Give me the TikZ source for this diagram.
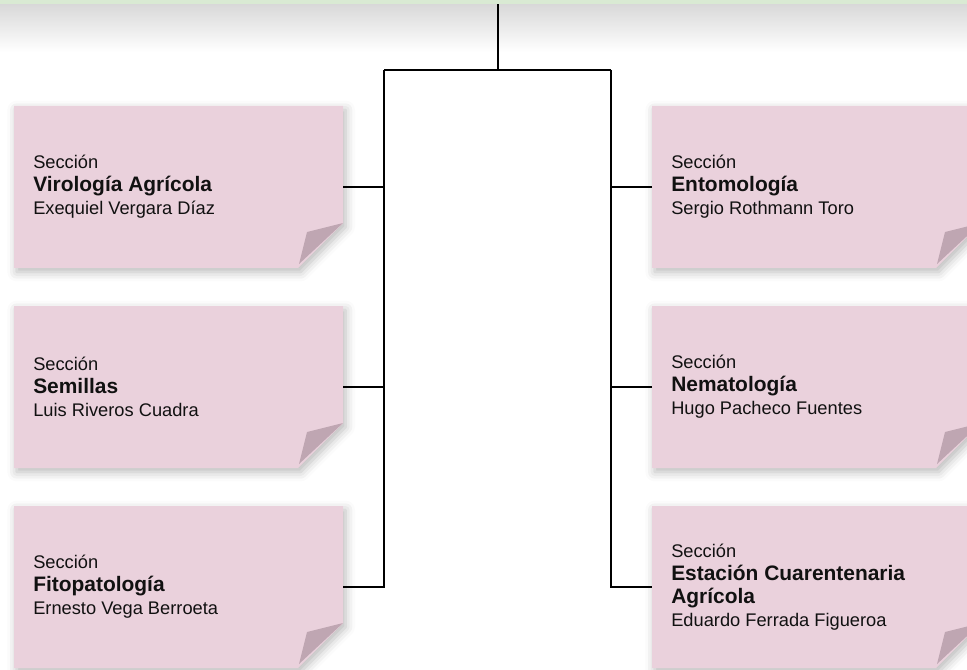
\documentclass[tikz,border=0pt]{standalone}
\usepackage{fontspec}
\setmainfont{Liberation Sans}
\usetikzlibrary{shadows.blur,calc}
\definecolor{boxpink}{HTML}{EAD1DC}
\definecolor{foldc}{HTML}{BFA6B2}
\definecolor{bandgreen}{HTML}{D9EAD3}
\definecolor{ink}{HTML}{111111}
\pgfdeclarelayer{background}
\pgfsetlayers{background,main}
\tikzset{
  card/.style={minimum width=246.75pt, minimum height=121.5pt, inner sep=0pt, outer sep=0pt},
  cardtext/.style={anchor=west, align=left, font=\fontsize{13.7}{17.25}\selectfont, text=ink, inner sep=0pt},
  wire/.style={line width=1.5pt, black},
  cardfill/.style={fill=boxpink, blur shadow={shadow xshift=2pt, shadow yshift=-3pt, shadow blur radius=7pt, shadow opacity=28}},
  foldfill/.style={fill=foldc},
}
\newcommand{\hd}[1]{{\fontsize{15.7}{17.25}\selectfont\bfseries #1}}
\newcommand{\cardshape}[1]{%
  \begin{pgfonlayer}{background}
    \path[cardfill] (#1.north west) -- (#1.north east) -- ($(#1.south east)+(0,-45)$) -- ($(#1.south east)+(-45,0)$) -- (#1.south west) -- cycle;
  \end{pgfonlayer}
  \path[foldfill] ($(#1.south east)+(0,-45)$) -- ($(#1.south east)+(-36,-36)$) -- ($(#1.south east)+(-44,-4)$) -- cycle;
}
\begin{document}
\begin{tikzpicture}[x=0.75pt,y=-0.75pt]
\useasboundingbox (0,0) rectangle (967,670);
% top band and its shadow
\shade[top color=black!15, bottom color=white] (0,4.5) rectangle (967,52);
\fill[bandgreen] (0,0) rectangle (967,4.5);

% cards
\node[card] (vir)  at (178.5,187) {};
\node[card] (sem)  at (178.5,387) {};
\node[card] (fito) at (178.5,587) {};
\node[card] (ento) at (816.5,187) {};
\node[card] (nema) at (816.5,387) {};
\node[card] (est)  at (816.5,587) {};
\cardshape{vir}\cardshape{sem}\cardshape{fito}
\cardshape{ento}\cardshape{nema}\cardshape{est}

\node[cardtext] (virT)  at ($(vir.west)+(19,0)$)  {Sección\\\hd{Virología Agrícola}\\Exequiel Vergara Díaz};
\node[cardtext] (semT)  at ($(sem.west)+(19,0)$)  {Sección\\\hd{Semillas}\\Luis Riveros Cuadra};
\node[cardtext] (fitoT) at ($(fito.west)+(19,0)$) {Sección\\\hd{Fitopatología}\\Ernesto Vega Berroeta};
\node[cardtext] (entoT) at ($(ento.west)+(19,0)$) {Sección\\\hd{Entomología}\\Sergio Rothmann Toro};
\node[cardtext] (nemaT) at ($(nema.west)+(19,0)$) {Sección\\\hd{Nematología}\\Hugo Pacheco Fuentes};
\node[cardtext] (estT)  at ($(est.west)+(19,0)$)  {Sección\\\hd{Estación Cuarentenaria}\\\hd{Agrícola}\\Eduardo Ferrada Figueroa};

% connectors
\coordinate (top)  at (498,4.5);
\coordinate (busM) at (498,70);
\coordinate (busL) at (384,70);
\coordinate (busR) at (611,70);
\draw[wire] (top) -- (busM);
\draw[wire] (busL) -- (busR);
\draw[wire] (busL) |- (fito.east);
\draw[wire] (busR) |- (est.west);
\draw[wire] (vir.east) -- (vir.east -| busL);
\draw[wire] (sem.east) -- (sem.east -| busL);
\draw[wire] (ento.west) -- (ento.west -| busR);
\draw[wire] (nema.west) -- (nema.west -| busR);
\end{tikzpicture}
\end{document}
